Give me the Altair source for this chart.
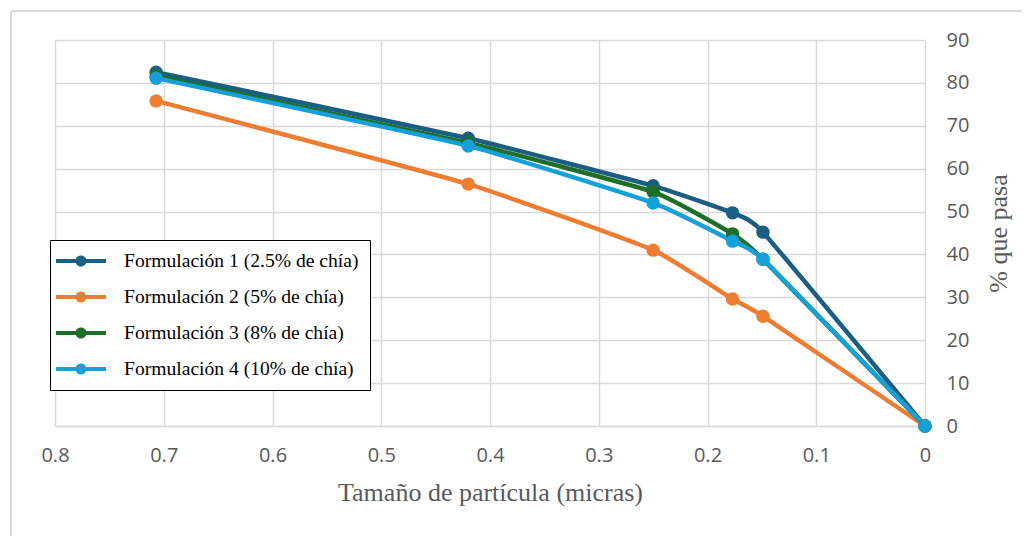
import altair as alt
import pandas as pd

# ---- data ----
sizes = [0.707, 0.42, 0.25, 0.177, 0.149, 0.0]
series = [
    "Formulación 1 (2.5% de chía)",
    "Formulación 2 (5% de chía)",
    "Formulación 3 (8% de chía)",
    "Formulación 4 (10% de chía)",
]
f1 = [82.5, 67.1, 56.0, 49.7, 45.2, 0.0]
f2 = [75.8, 56.4, 41.0, 29.6, 25.6, 0.0]
f3 = [81.6, 66.0, 54.6, 44.8, 38.9, 0.0]
f4 = [81.1, 65.3, 52.0, 43.1, 38.9, 0.0]
colors = ["#1b5e84", "#ed7d31", "#1e6e28", "#16a0d8"]
x_ticks = [0.8, 0.7, 0.6, 0.5, 0.4, 0.3, 0.2, 0.1, 0.0]
y_ticks = [0, 10, 20, 30, 40, 50, 60, 70, 80, 90]

rows = []
for name, vals in zip(series, [f1, f2, f3, f4]):
    for s, v in zip(sizes, vals):
        rows.append({"size": s, "pct": v, "serie": name})
df = pd.DataFrame(rows)

label_font = "Open Sans"
label_color = "#595959"
grid_color = "#d9d9d9"

x_enc = alt.X(
    "size:Q",
    scale=alt.Scale(domain=[0, 0.8], reverse=True, nice=False),
    axis=alt.Axis(
        values=x_ticks,
        format=".1~f",
        title="Tamaño de partícula (micras)",
        titleFont="Liberation Serif",
        titleFontSize=26,
        titleFontWeight="normal",
        titleColor=label_color,
        titlePadding=14,
        labelFont=label_font,
        labelFontSize=20,
        labelColor=label_color,
        labelPadding=19,
        labelFlush=False,
        ticks=False,
        domainColor=grid_color,
        domainWidth=1.5,
        gridColor=grid_color,
        gridWidth=1.5,
    ),
)
y_enc = alt.Y(
    "pct:Q",
    scale=alt.Scale(domain=[0, 90], nice=False),
    axis=alt.Axis(
        orient="right",
        values=y_ticks,
        title="% que pasa",
        titleFont="Liberation Serif",
        titleFontSize=26,
        titleFontWeight="normal",
        titleColor=label_color,
        titleAngle=270,
        titleBaseline="top",
        titlePadding=17,
        labelFont=label_font,
        labelFontSize=20,
        labelColor=label_color,
        labelPadding=21,
        labelFlush=False,
        ticks=False,
        domain=False,
        gridColor=grid_color,
        gridWidth=1.5,
    ),
)

color_scale = alt.Scale(domain=series, range=colors)

legend_path = (
    "M-2.5,-0.2H2.5V0.2H-2.5Z "
    "M0.55,0A0.55,0.55 0 1,1 -0.55,0A0.55,0.55 0 1,1 0.55,0Z"
)

legend = alt.Legend(
    title=None,
    orient="none",
    legendX=-5,
    legendY=200,
    symbolType=legend_path,
    symbolSize=400,
    symbolStrokeWidth=0,
    symbolOpacity=1,
    symbolOffset=10,
    labelOffset=33,
    labelFont="Liberation Serif",
    labelFontSize=19.6,
    labelColor="black",
    labelLimit=500,
    labelExpr="datum.label + '\u2003\u2003\u2003'",
    rowPadding=16,
    padding=11,
    strokeColor="black",
    fillColor="white",
)

lines = alt.Chart(df).mark_line(
    interpolate="cardinal", tension=0.6, strokeWidth=4.5
).encode(
    x=x_enc,
    y=y_enc,
    color=alt.Color("serie:N", scale=color_scale, legend=legend),
    detail="serie:N",
)

points = alt.Chart(df).mark_point(
    filled=True, size=180, opacity=1
).encode(
    x=x_enc,
    y=y_enc,
    color=alt.Color("serie:N", scale=color_scale, legend=legend),
    order=alt.Order("serie:N"),
)

# light grey outer frame of the chart area (decoration only)
frame_top = alt.Chart(df).mark_rule(color=grid_color, strokeWidth=1.5).encode(
    x=alt.value(-44), x2=alt.value(990), y=alt.value(-29)
)
frame_left = alt.Chart(df).mark_rule(color=grid_color, strokeWidth=1.5).encode(
    x=alt.value(-44), y=alt.value(-29), y2=alt.value(500)
)

chart = (
    alt.layer(frame_top, frame_left, lines, points)
    .properties(
        width=870,
        height=386,
        autosize=alt.AutoSizeParams(type="none"),
        padding={"left": 47, "top": 32, "right": 96, "bottom": 110},
        background="white",
    )
    .configure_view(strokeWidth=0)
)

chart.save("out.html", embed_options={"renderer": "svg", "actions": False})
